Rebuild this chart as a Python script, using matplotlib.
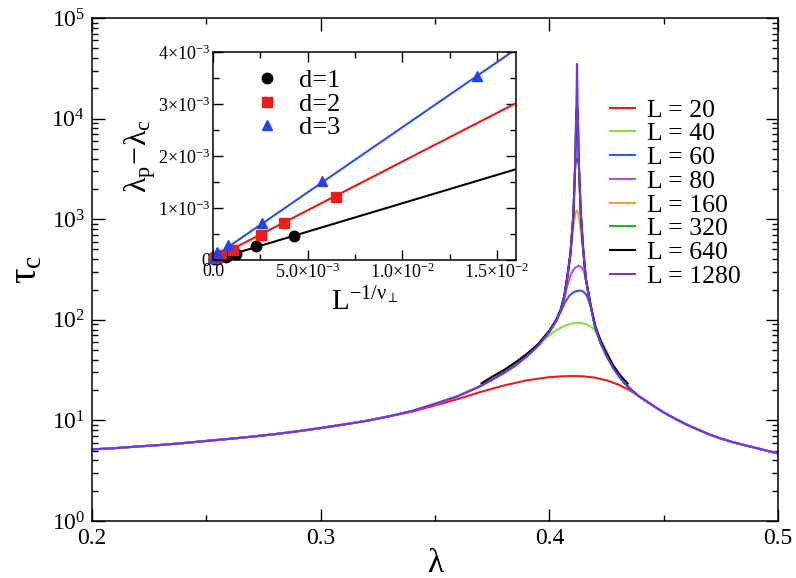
import matplotlib
matplotlib.use('Agg')
import matplotlib.pyplot as plt
from matplotlib.ticker import MultipleLocator, LogLocator, NullFormatter, FixedLocator

plt.rcParams['font.family'] = ['Liberation Serif', 'DejaVu Serif']
plt.rcParams['mathtext.fontset'] = 'custom'
plt.rcParams['mathtext.rm'] = 'Liberation Serif'
plt.rcParams['mathtext.it'] = 'Liberation Serif'
plt.rcParams['mathtext.bf'] = 'Liberation Serif:bold'

# ---- main panel data (tau_c vs lambda) ----
lam_left = [0.200, 0.210, 0.220, 0.230, 0.240, 0.250, 0.260, 0.270, 0.280, 0.290, 0.300, 0.310, 0.320, 0.330]
tau_left = [5.15, 5.30, 5.50, 5.70, 5.95, 6.25, 6.55, 6.90, 7.30, 7.80, 8.40, 9.10, 9.90, 11.0]

lam_right = [0.4388, 0.445, 0.450, 0.455, 0.460, 0.465, 0.470, 0.475, 0.480, 0.485, 0.490, 0.495, 0.500]
tau_right = [17.6, 14.2, 12.0, 10.4, 9.1, 8.1, 7.25, 6.6, 6.1, 5.7, 5.35, 5.0, 4.7]

lam_20 = [0.340, 0.350, 0.360, 0.370, 0.380, 0.390, 0.400, 0.405, 0.410, 0.415, 0.420, 0.425, 0.430, 0.435]
tau_20 = [12.2, 14.1, 16.3, 19.2, 22.2, 25.0, 26.9, 27.4, 27.6, 27.4, 26.6, 25.0, 22.8, 20.0]

lam_40 = [0.340, 0.350, 0.360, 0.370, 0.380, 0.385, 0.390, 0.394, 0.398, 0.402, 0.406, 0.410, 0.4134,
          0.416, 0.419, 0.4215, 0.424, 0.426, 0.428, 0.431, 0.434]
tau_40 = [12.4, 14.6, 17.4, 22.0, 29.5, 35.0, 43.0, 52.0, 64.0, 76.0, 86.0, 92.0, 93.5,
          91.0, 83.0, 70.0, 55.0, 44.0, 34.0, 26.5, 22.0]

lam_60 = [0.340, 0.350, 0.360, 0.370, 0.380, 0.385, 0.390, 0.395, 0.400, 0.403, 0.405, 0.407, 0.409,
          0.411, 0.4134, 0.415, 0.4163, 0.4172, 0.4180, 0.4200, 0.4225, 0.4250, 0.4280, 0.4310, 0.4340]
tau_60 = [12.4, 14.6, 17.4, 22.0, 29.5, 35.0, 43.0, 55.0, 76.0, 97.0, 120, 152, 176,
          190, 196, 190, 175, 155, 138, 85, 58, 44, 33, 26.5, 22.0]

lam_80 = [0.340, 0.350, 0.360, 0.370, 0.380, 0.385, 0.390, 0.395, 0.400, 0.403, 0.405, 0.4065, 0.408,
          0.4095, 0.411, 0.4128, 0.4142, 0.4152, 0.4160, 0.4180, 0.4200, 0.4225, 0.4250, 0.4280, 0.4310, 0.4340]
tau_80 = [12.4, 14.6, 17.4, 22.0, 29.5, 35.0, 43.0, 55.0, 76.0, 98.0, 124, 162, 225,
          285, 325, 345, 330, 300, 250, 140, 85, 58, 44, 33, 26.5, 22.0]

lam_160 = [0.340, 0.350, 0.360, 0.370, 0.380, 0.385, 0.390, 0.395, 0.400, 0.403, 0.405, 0.4065, 0.4078,
           0.4092, 0.4105, 0.4114, 0.4120, 0.4126, 0.4132, 0.4140, 0.4148, 0.4160, 0.4180, 0.4200, 0.4225,
           0.4250, 0.4280, 0.4310, 0.4340]
tau_160 = [12.4, 14.6, 17.4, 22.0, 29.5, 35.0, 43.0, 55.0, 76.0, 98.0, 125, 170, 255,
           430, 870, 1150, 1220, 1150, 950, 700, 490, 250, 140, 85, 58,
           44, 33, 26.5, 22.0]

lam_320 = [0.369, 0.375, 0.380, 0.385, 0.390, 0.395, 0.400, 0.403, 0.405, 0.4065, 0.4078, 0.4092, 0.4105,
           0.4113, 0.4121, 0.4129, 0.4137, 0.4148, 0.4160, 0.4180, 0.4200, 0.4225, 0.4250,
           0.4280, 0.4310, 0.4340, 0.438]
tau_320 = [21.6, 25.5, 29.8, 35.5, 43.5, 55.5, 76.5, 98, 125, 170, 260, 450, 1100,
           3500, 4000, 3500, 1200, 500, 250, 140, 85, 58, 44,
           33, 26.5, 22.0, 18.2]

lam_640 = [0.3704, 0.375, 0.380, 0.385, 0.390, 0.395, 0.400, 0.403, 0.405, 0.4065, 0.4078, 0.4092, 0.4105,
           0.4113, 0.4118, 0.4121, 0.4124, 0.4129, 0.4137, 0.4148, 0.4160, 0.4180, 0.4200, 0.4225, 0.4250,
           0.4280, 0.4310, 0.4343]
tau_640 = [23.4, 27.2, 31.5, 37.5, 45.5, 57.0, 78.0, 100, 127, 172, 262, 450, 1100,
           3500, 12000, 13000, 12000, 3500, 1200, 500, 252, 142, 88, 61, 46.5,
           35, 28, 23.2]

lam_1280 = [0.340, 0.350, 0.360, 0.370, 0.380, 0.385, 0.390, 0.395, 0.400, 0.403, 0.405, 0.4065, 0.4078,
            0.4092, 0.4105, 0.4113, 0.4118, 0.4121, 0.4124, 0.4129, 0.4137, 0.4148, 0.4160, 0.4180, 0.4200,
            0.4225, 0.4250, 0.4280, 0.4310, 0.4340]
tau_1280 = [12.4, 14.6, 17.4, 22.0, 29.5, 35.0, 43.0, 55.0, 76.0, 98.0, 125, 170, 260,
            450, 1100, 3500, 12000, 34900, 12000, 3500, 1200, 500, 250, 140, 85,
            58, 44, 33, 26.5, 22.0]

# ---- inset data (lambda_p - lambda_c vs L^-1/nu) ----
d1_x = [0.05e-3, 0.2e-3, 0.7e-3, 1.23e-3, 2.29e-3, 4.26e-3]
d1_y = [0.01e-3, 0.02e-3, 0.06e-3, 0.12e-3, 0.26e-3, 0.46e-3]
d2_x = [0.05e-3, 0.18e-3, 0.44e-3, 1.06e-3, 2.52e-3, 3.74e-3, 6.52e-3]
d2_y = [0.03e-3, 0.05e-3, 0.09e-3, 0.20e-3, 0.49e-3, 0.71e-3, 1.21e-3]
d3_x = [0.05e-3, 0.23e-3, 0.79e-3, 2.61e-3, 5.78e-3, 13.92e-3]
d3_y = [0.06e-3, 0.15e-3, 0.28e-3, 0.71e-3, 1.51e-3, 3.53e-3]

fit_x = [0.0, 0.0165]
fit1_y = [0.0, 1.80e-3]
fit2_y = [0.02e-3, 3.11e-3]
fit3_y = [0.05e-3, 4.18e-3]

inset_xticks = [0.0, 5e-3, 1e-2, 1.5e-2]
inset_xlabels = ['0.0', r'5.0$\times$10$^{-3}$', r'1.0$\times$10$^{-2}$', r'1.5$\times$10$^{-2}$']
inset_yticks = [0.0, 1e-3, 2e-3, 3e-3, 4e-3]
inset_ylabels = ['0', r'1$\times$10$^{-3}$', r'2$\times$10$^{-3}$', r'3$\times$10$^{-3}$', r'4$\times$10$^{-3}$']

curves = [
    ('L = 20', lam_left + lam_20 + lam_right, tau_left + tau_20 + tau_right, '#e4201c'),
    ('L = 40', lam_left + lam_40 + lam_right, tau_left + tau_40 + tau_right, '#84e043'),
    ('L = 60', lam_left + lam_60 + lam_right, tau_left + tau_60 + tau_right, '#2f5ce0'),
    ('L = 80', lam_left + lam_80 + lam_right, tau_left + tau_80 + tau_right, '#b352dc'),
    ('L = 160', lam_left + lam_160 + lam_right, tau_left + tau_160 + tau_right, '#f0a02e'),
    ('L = 320', lam_320, tau_320, '#27b327'),
    ('L = 640', lam_640, tau_640, '#000000'),
    ('L = 1280', lam_left + lam_1280 + lam_right, tau_left + tau_1280 + tau_right, '#6e35ee'),
]

fig = plt.figure(figsize=(7.96, 5.78), dpi=100)
ax = fig.add_axes([0.1156, 0.0986, 0.8618, 0.8703])

for label, x, y, c in curves:
    ax.plot(x, y, color=c, lw=1.5, label=label)

ax.set_yscale('log')
ax.set_xlim(0.2, 0.5)
ax.set_ylim(1, 1e5)
ax.xaxis.set_major_locator(MultipleLocator(0.1))
ax.xaxis.set_minor_locator(MultipleLocator(0.05))
ax.xaxis.set_major_formatter(plt.FuncFormatter(lambda v, p: '%.1f' % v))
ax.yaxis.set_major_locator(LogLocator(base=10, numticks=10))
ax.yaxis.set_minor_locator(LogLocator(base=10, subs=range(2, 10), numticks=20))
ax.yaxis.set_minor_formatter(NullFormatter())
ax.tick_params(which='both', direction='in', top=True, right=True, width=1.0, labelsize=17)
ax.tick_params(which='major', length=9, pad=5)
ax.tick_params(which='minor', length=4.5)
for s in ax.spines.values():
    s.set_linewidth(1.1)
ax.set_xlabel('λ', fontsize=24, labelpad=0)
ax.set_ylabel(r'$\tau_\mathrm{c}$', fontsize=28, labelpad=4)

ax.legend(loc='upper left', bbox_to_anchor=(0.74, 0.86), frameon=False, fontsize=18.5,
          handlelength=0.97, handletextpad=0.47, labelspacing=0.03, borderaxespad=0)

# ---- inset ----
ins = fig.add_axes([0.2676, 0.5502, 0.3806, 0.3598])
ins.plot(fit_x, fit1_y, color='black', lw=1.5)
ins.plot(fit_x, fit2_y, color='#e41a1a', lw=1.5)
ins.plot(fit_x, fit3_y, color='#2e4fe0', lw=1.5)
ins.plot(d1_x, d1_y, 'o', color='black', ms=7.5, clip_on=False, label='d=1')
ins.plot(d2_x, d2_y, 's', color='#ee1c1c', ms=6.5, clip_on=False, label='d=2')
ins.plot(d3_x, d3_y, '^', color='#2244ee', ms=7.5, clip_on=False, label='d=3')
ins.set_xlim(0, 0.016)
ins.set_ylim(0, 4e-3)
ins.xaxis.set_major_locator(FixedLocator(inset_xticks))
ins.set_xticklabels(inset_xlabels)
ins.xaxis.set_minor_locator(MultipleLocator(2.5e-3))
ins.yaxis.set_major_locator(FixedLocator(inset_yticks))
ins.set_yticklabels(inset_ylabels)
ins.yaxis.set_minor_locator(MultipleLocator(0.5e-3))
ins.tick_params(which='both', direction='in', top=True, right=True, width=1.0, labelsize=13)
ins.tick_params(which='major', length=7, pad=2)
ins.tick_params(which='minor', length=4)
for s in ins.spines.values():
    s.set_linewidth(1.1)
ins.set_xlabel(r'L$^{-1/\nu_{\perp}}$', fontsize=21, labelpad=4)
ins.set_ylabel(r'$\lambda_\mathrm{p}\!-\!\lambda_\mathrm{c}$', fontsize=23, labelpad=0)
ins.legend(loc='upper left', bbox_to_anchor=(0.1, 0.97), frameon=False, fontsize=19,
           handlelength=1.0, handletextpad=0.7, labelspacing=0.0, borderaxespad=0)

fig.savefig('out.png', dpi=100)
